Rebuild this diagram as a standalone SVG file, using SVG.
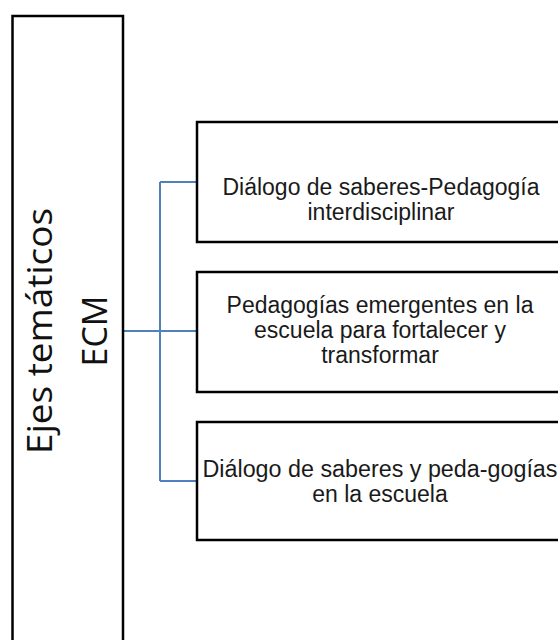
<svg xmlns="http://www.w3.org/2000/svg" width="558" height="640" viewBox="0 0 558 640">
<style>
.box{fill:#fff;stroke:#000;stroke-width:2.5}
.conn{fill:none;stroke:#4f81bd;stroke-width:2}
.lbl{font-family:"Liberation Sans",Arial,sans-serif;font-size:23px;fill:#1a1a1a;text-anchor:middle}
.side{font-family:"Open Sans","DejaVu Sans",sans-serif;font-size:34px;fill:#111;text-anchor:middle}
</style>
<rect width="558" height="640" fill="#fff"/>
<g id="connectors">
<path class="conn" d="M123,331 H197 M160,182 V481 M160,182 H197 M160,481 H197"/>
</g>
<g id="root">
<rect class="box" x="12.5" y="16" width="110.5" height="640"/>
<text class="side" transform="translate(52,331) rotate(-90)" textLength="246" lengthAdjust="spacingAndGlyphs">Ejes temáticos</text>
<text class="side" transform="translate(107,331) rotate(-90)">ECM</text>
</g>
<g id="node1">
<rect class="box" x="197" y="122" width="370" height="120"/>
<text class="lbl" x="381" y="195">Diálogo de saberes-Pedagogía</text>
<text class="lbl" x="381" y="220">interdisciplinar</text>
</g>
<g id="node2">
<rect class="box" x="197" y="272" width="370" height="120"/>
<text class="lbl" x="380" y="313">Pedagogías emergentes en la</text>
<text class="lbl" x="380" y="338">escuela para fortalecer y</text>
<text class="lbl" x="380" y="363">transformar</text>
</g>
<g id="node3">
<rect class="box" x="197" y="422" width="370" height="118"/>
<text class="lbl" x="380" y="477" textLength="355" lengthAdjust="spacingAndGlyphs">Diálogo de saberes y peda-gogías</text>
<text class="lbl" x="380" y="502">en la escuela</text>
</g>
</svg>
